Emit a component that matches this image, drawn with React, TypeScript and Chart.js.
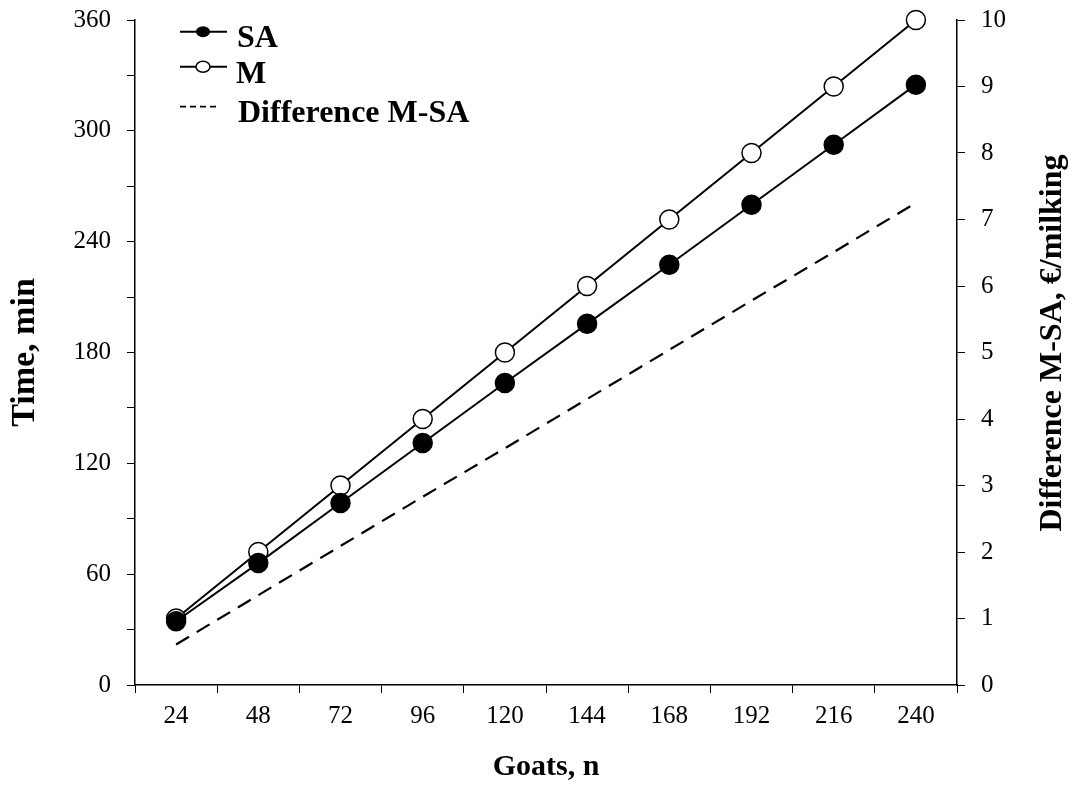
import React, { useEffect, useRef } from "react";
import { Chart, registerables } from "chart.js";

Chart.register(...registerables);

const goats = ["24", "48", "72", "96", "120", "144", "168", "192", "216", "240"];
const timeSA = [34.5, 66, 98.5, 131, 163.5, 195.5, 227.5, 260, 292.5, 325];
const timeM = [36, 72, 108, 144, 180, 216, 252, 288, 324, 360];
const diffMSA = [0.61, 1.35, 2.09, 2.83, 3.56, 4.3, 5.04, 5.78, 6.51, 7.25];

const legendItems = ["SA", "M", "Difference M-SA"];
const rightTitle = "Difference M-SA, €/milking";

const FONT = "'Liberation Serif', 'Times New Roman', serif";

const legendPlugin = {
  id: "insideLegend",
  afterDraw(chart: any) {
    const ctx = chart.ctx;
    ctx.save();
    const x0 = 180;
    const x1 = 227;
    const rows = [31.7, 66.7, 106.7];
    ctx.strokeStyle = "#000";
    ctx.fillStyle = "#000";
    // SA
    ctx.lineWidth = 2;
    ctx.setLineDash([]);
    ctx.beginPath();
    ctx.moveTo(x0, rows[0]);
    ctx.lineTo(x1, rows[0]);
    ctx.stroke();
    ctx.beginPath();
    ctx.ellipse(203, rows[0], 7, 5.5, 0, 0, Math.PI * 2);
    ctx.fill();
    // M
    ctx.beginPath();
    ctx.moveTo(x0, rows[1]);
    ctx.lineTo(x1, rows[1]);
    ctx.stroke();
    ctx.beginPath();
    ctx.ellipse(203, rows[1], 7, 5.5, 0, 0, Math.PI * 2);
    ctx.fillStyle = "#fff";
    ctx.fill();
    ctx.lineWidth = 1.5;
    ctx.stroke();
    // Diff
    ctx.lineWidth = 1.8;
    ctx.setLineDash([6, 4]);
    ctx.beginPath();
    ctx.moveTo(x0, rows[2]);
    ctx.lineTo(218, rows[2]);
    ctx.stroke();
    ctx.setLineDash([]);
    // text
    ctx.fillStyle = "#000";
    ctx.font = `bold 32px ${FONT}`;
    ctx.textBaseline = "alphabetic";
    ctx.textAlign = "left";
    ctx.fillText(legendItems[0], 237, rows[0] + 15);
    ctx.fillText(legendItems[1], 236, rows[1] + 16);
    ctx.fillText(legendItems[2], 238, rows[2] + 15);

    // right axis title, reading bottom-to-top
    ctx.save();
    ctx.translate(1053, 343);
    ctx.rotate(-Math.PI / 2);
    ctx.textAlign = "center";
    ctx.textBaseline = "middle";
    ctx.font = `bold 32px ${FONT}`;
    ctx.fillText(rightTitle, 0, 0);
    ctx.restore();
    ctx.restore();
  },
};

const noVPad = (width: number) => (s: any) => {
  s.width = width;
  s.paddingTop = 0;
  s.paddingBottom = 0;
};

export default function App() {
  const ref = useRef<HTMLCanvasElement | null>(null);

  useEffect(() => {
    document.body.style.margin = "0";
    document.body.style.overflow = "hidden";
    Chart.defaults.font.family = FONT;
    Chart.defaults.color = "#000";
    const canvas = ref.current!;
    const chart = new Chart(canvas, {
      type: "line",
      data: {
        labels: goats,
        datasets: [
          {
            label: "SA",
            data: timeSA,
            yAxisID: "y",
            borderColor: "#000",
            borderWidth: 2,
            backgroundColor: "#000",
            pointBackgroundColor: "#000",
            pointBorderColor: "#000",
            pointBorderWidth: 1.5,
            pointRadius: 9.5,
            tension: 0,
            clip: false,
          },
          {
            label: "M",
            data: timeM,
            yAxisID: "y",
            borderColor: "#000",
            borderWidth: 2,
            backgroundColor: "#fff",
            pointBackgroundColor: "#fff",
            pointBorderColor: "#000",
            pointBorderWidth: 1.5,
            pointRadius: 9.5,
            tension: 0,
            clip: false,
          },
          {
            label: "Difference M-SA",
            data: diffMSA,
            yAxisID: "y1",
            borderColor: "#000",
            borderWidth: 2.2,
            borderDash: [15, 9],
            pointRadius: 0,
            tension: 0,
            clip: false,
          },
        ],
      },
      options: {
        responsive: false,
        animation: false,
        layout: { padding: { top: 20, left: 0, right: 0, bottom: 0 } },
        plugins: {
          legend: { display: false },
          tooltip: { enabled: false },
        },
        scales: {
          x: {
            type: "category",
            offset: true,
            grid: {
              display: true,
              offset: true,
              drawOnChartArea: false,
              drawTicks: true,
              tickLength: 8,
              color: "#000",
              lineWidth: 1,
            },
            border: { display: true, color: "#000", width: 1.5 },
            ticks: {
              color: "#000",
              font: { family: FONT, size: 25 },
              padding: 8,
              maxRotation: 0,
              autoSkip: false,
            },
            title: {
              display: true,
              text: "Goats, n",
              color: "#000",
              font: { family: FONT, size: 30, weight: "bold" },
              padding: { top: 0, bottom: 0 },
            },
            afterFit: (s: any) => {
              s.height = 100;
              s.paddingLeft = 0;
              s.paddingRight = 0;
            },
          },
          y: {
            type: "linear",
            position: "left",
            min: 0,
            max: 360,
            grid: {
              display: true,
              drawOnChartArea: false,
              drawTicks: true,
              tickLength: 8,
              color: "#000",
            },
            border: { display: true, color: "#000", width: 1.5 },
            ticks: {
              stepSize: 30,
              autoSkip: false,
              color: "#000",
              font: { family: FONT, size: 25 },
              padding: 16,
              callback: (v: any) => (Number(v) % 60 === 0 ? String(v) : ""),
            },
            title: {
              display: true,
              text: "Time, min",
              color: "#000",
              font: { family: FONT, size: 34, weight: "bold" },
              padding: { top: 5, bottom: 0 },
            },
            afterFit: noVPad(135),
          },
          y1: {
            type: "linear",
            position: "right",
            min: 0,
            max: 10,
            grid: {
              display: true,
              drawOnChartArea: false,
              drawTicks: true,
              tickLength: 8,
              color: "#000",
            },
            border: { display: true, color: "#000", width: 1.5 },
            ticks: {
              stepSize: 1,
              autoSkip: false,
              color: "#000",
              font: { family: FONT, size: 25 },
              padding: 16,
            },
            title: { display: false },
            afterFit: noVPad(115),
          },
        },
      },
      plugins: [legendPlugin],
    });
    return () => chart.destroy();
  }, []);

  return (
    <div style={{ width: 1072, height: 785 }}>
      <canvas ref={ref} width={1072} height={785} style={{ display: "block" }} />
    </div>
  );
}
